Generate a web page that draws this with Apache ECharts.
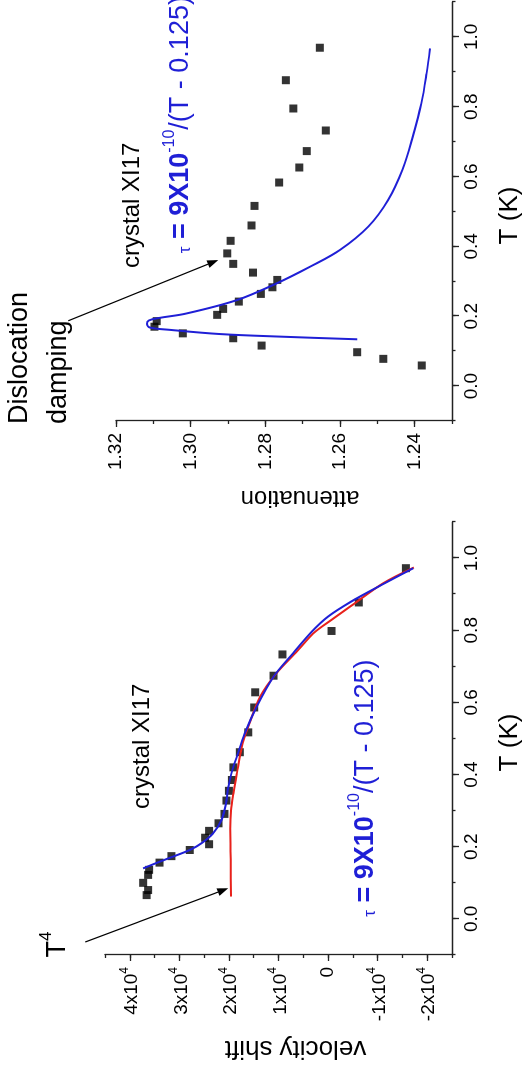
<!DOCTYPE html>
<html><head><meta charset="utf-8">
<script src="https://cdn.jsdelivr.net/npm/echarts@6/dist/echarts.min.js"></script>
<style>
html,body{margin:0;padding:0;background:#fff;overflow:hidden;width:525px;height:1071px;}
#chart{position:absolute;left:0;top:0;width:1071px;height:525px;transform-origin:0 0;transform:translate(0px,1071px) rotate(-90deg);background:#fff;}
</style></head><body><div id="chart"></div>
<script>
const FONT = '"Liberation Sans", Arial, sans-serif';

// ---- Left panel: velocity shift (in units of 1e-4) ----
const velScatterT = [0.972,0.877,0.798,0.733,0.674,0.628,0.586,0.517,0.462,0.420,0.385,0.355,0.328,0.291,0.265,0.244,0.225,0.207,0.191,0.174,0.156,0.136,0.122,0.100,0.080,0.066];
const velScatterV = [-1.57,-0.62,-0.07,0.92,1.10,1.47,1.49,1.61,1.78,1.91,1.94,2.00,2.05,2.09,2.21,2.40,2.48,2.40,2.79,3.16,3.40,3.61,3.63,3.73,3.63,3.66];
const velBlueT = [0.140,0.159,0.173,0.191,0.210,0.237,0.274,0.320,0.367,0.403,0.450,0.514,0.588,0.671,0.731,0.796,0.838,0.879,0.925,0.972];
const velBlueV = [3.73,3.39,3.12,2.79,2.55,2.32,2.15,2.06,2.01,1.95,1.84,1.68,1.44,1.10,0.74,0.33,0.00,-0.46,-1.07,-1.72];
const velRedT = [0.062,0.150,0.250,0.300,0.348,0.403,0.477,0.533,0.616,0.681,0.741,0.791,0.830,0.870,0.930,0.974];
const velRedV = [1.96,1.965,1.975,1.96,1.91,1.84,1.74,1.61,1.37,1.04,0.63,0.30,-0.08,-0.49,-1.11,-1.73];

// ---- Right panel: attenuation ----
const attScatterT = [0.969,0.876,0.795,0.732,0.673,0.626,0.583,0.516,0.460,0.416,0.380,0.350,0.325,0.304,0.283,0.264,0.242,0.221,0.204,0.186,0.170,0.151,0.137,0.116,0.097,0.078,0.059];
const attScatterA = [1.2654,1.2745,1.2725,1.2638,1.2689,1.2709,1.2763,1.2829,1.2837,1.2893,1.2902,1.2886,1.2833,1.2768,1.2781,1.2812,1.2871,1.2913,1.2929,1.3091,1.3097,1.3021,1.2886,1.2810,1.2554,1.2484,1.2381];
const attBlueT = [0.134,0.141,0.149,0.161,0.168,0.178,0.188,0.195,0.208,0.246,0.294,0.342,0.390,0.457,0.533,0.619,0.714,0.810,0.896,0.967];
const attBlueA = [1.2554,1.2743,1.2921,1.3055,1.3110,1.3117,1.3112,1.3085,1.3011,1.2877,1.2770,1.2680,1.2600,1.2524,1.2471,1.2433,1.2405,1.2382,1.2368,1.2359];

// ---- Tick labels ----
const tTicks = [0.0,0.2,0.4,0.6,0.8,1.0];
const velTicks = [-2,-1,0,1,2,3,4];
const attTicks = [1.24,1.26,1.28,1.30,1.32];

// ---- Annotation anchors (data coordinates) ----
const arrowLeft = {from:[-0.064,4.90], to:[0.085,2.013]};
const arrowRight = {from:[0.187,1.3328], to:[0.361,1.2926]};

const zip = (a,b) => a.map((v,i)=>[v,b[i]]);
const AX = '#222';
const lineStyle = {color:AX, width:1.3};

function majorX(gi){
  return {gridIndex:gi,type:'value',min:-0.1,max:1.1,interval:0.1,position:'bottom',
    name:'T (K)',nameLocation:'middle',nameGap:45,
    nameTextStyle:{fontSize:26,fontFamily:FONT,color:'#000',padding:[0,8,0,0]},
    axisLine:{show:true,onZero:false,lineStyle},
    axisTick:{show:true,customValues:tTicks,length:7,lineStyle},
    axisLabel:{customValues:tTicks,formatter:v=>v.toFixed(1),fontSize:19,fontFamily:FONT,color:'#000',margin:10},
    splitLine:{show:false}};
}
function minorX(gi){
  return {gridIndex:gi,type:'value',min:-0.1,max:1.1,interval:0.1,position:'bottom',
    axisLine:{show:false,onZero:false},axisTick:{show:true,length:3.5,lineStyle},
    axisLabel:{show:false},splitLine:{show:false}};
}
const chart = echarts.init(document.getElementById('chart'), null, {width:1071,height:525});
const option = {
  animation:false,
  backgroundColor:'#fff',
  grid:[
    {left:116,top:105,width:433,height:347,outerBoundsMode:'none',containLabel:false},
    {left:650,top:116,width:419,height:336,outerBoundsMode:'none',containLabel:false}
  ],
  xAxis:[majorX(0),majorX(1),minorX(0),minorX(1)],
  yAxis:[
    {gridIndex:0,type:'value',min:-2.5,max:4.5,interval:0.5,position:'left',
     name:'velocity shift',nameLocation:'middle',nameRotate:90,nameGap:80,
     nameTextStyle:{fontSize:26,fontFamily:FONT,color:'#000',padding:[0,34,0,0]},
     axisLine:{show:true,onZero:false,lineStyle},
     axisTick:{show:true,customValues:velTicks,length:6,lineStyle},
     axisLabel:{customValues:velTicks,margin:12,
       formatter:v=>{const n=Math.round(v);return n===0?'{n|0}':'{n|'+n+'x10}{s|4}';},
       rich:{n:{fontSize:19,fontFamily:FONT,color:'#000',verticalAlign:'bottom'},
             s:{fontSize:12,fontFamily:FONT,color:'#000',verticalAlign:'bottom',padding:[0,0,11,0]}}},
     splitLine:{show:false}},
    {gridIndex:1,type:'value',min:1.23,max:1.32,interval:0.01,position:'left',
     name:'attenuation',nameLocation:'middle',nameRotate:90,nameGap:65,
     nameTextStyle:{fontSize:24,fontFamily:FONT,color:'#000',padding:[0,32,0,0]},
     axisLine:{show:true,onZero:false,lineStyle},
     axisTick:{show:true,customValues:attTicks,length:6,lineStyle},
     axisLabel:{customValues:attTicks,margin:12,formatter:v=>v.toFixed(2),fontSize:19,fontFamily:FONT,color:'#000'},
     splitLine:{show:false}},
    {gridIndex:0,type:'value',min:-2.5,max:4.5,interval:0.5,position:'left',
     axisLine:{show:false,onZero:false},axisTick:{show:true,length:3,lineStyle},axisLabel:{show:false},splitLine:{show:false}},
    {gridIndex:1,type:'value',min:1.23,max:1.32,interval:0.01,position:'left',
     axisLine:{show:false,onZero:false},axisTick:{show:true,length:3,lineStyle},axisLabel:{show:false},splitLine:{show:false}}
  ],
  series:[
    {type:'scatter',xAxisIndex:0,yAxisIndex:0,data:zip(velScatterT,velScatterV),symbol:'rect',symbolSize:8,itemStyle:{color:'#000'},z:3},
    {type:'line',xAxisIndex:0,yAxisIndex:0,data:zip(velRedT,velRedV),showSymbol:false,smooth:0.3,lineStyle:{color:'#e8211b',width:2},z:4},
    {type:'line',xAxisIndex:0,yAxisIndex:0,data:zip(velBlueT,velBlueV),showSymbol:false,smooth:0.3,lineStyle:{color:'#1f1fd6',width:2},z:5},
    {type:'scatter',xAxisIndex:1,yAxisIndex:1,data:zip(attScatterT,attScatterA),symbol:'rect',symbolSize:8,itemStyle:{color:'#000'},z:3},
    {type:'line',xAxisIndex:1,yAxisIndex:1,data:zip(attBlueT,attBlueA),showSymbol:false,smooth:0.35,lineStyle:{color:'#1f1fd6',width:2},z:4}
  ]
};
chart.setOption(option);

function arrow(finder, a){
  const p0 = chart.convertToPixel(finder, a.from);
  const p1 = chart.convertToPixel(finder, a.to);
  const dx=p1[0]-p0[0], dy=p1[1]-p0[1], L=Math.hypot(dx,dy);
  const ux=dx/L, uy=dy/L, hl=11, hw=4;
  const bx=p1[0]-ux*hl, by=p1[1]-uy*hl;
  return [
    {type:'line',shape:{x1:p0[0],y1:p0[1],x2:bx,y2:by},style:{stroke:'#000',lineWidth:1.2},z:10},
    {type:'polygon',shape:{points:[[p1[0],p1[1]],[bx-uy*hw,by+ux*hw],[bx+uy*hw,by-ux*hw]]},style:{fill:'#000'},z:10}
  ];
}
function text(x,y,t,size,extra){
  return Object.assign({type:'text',x:x,y:y,z:10,style:Object.assign({text:t,fontSize:size,fontFamily:FONT,fill:'#000',
    align:'left',verticalAlign:'middle',textAlign:'left',textVerticalAlign:'middle'},extra||{})});
}
const BLUE='#1f1fd6';
const formulaRich = {
  t:{fontSize:17,fontFamily:FONT,fill:BLUE,verticalAlign:'bottom'},
  m:{fontSize:27,fontFamily:FONT,fill:BLUE,fontWeight:'bold',verticalAlign:'bottom'},
  s:{fontSize:16,fontFamily:FONT,fill:BLUE,verticalAlign:'bottom',padding:[0,0,16,0]},
  r:{fontSize:27,fontFamily:FONT,fill:BLUE,verticalAlign:'bottom'}
};
const formula = '{t|τ}{m| = 9X10}{s|-10}{r|/(T - 0.125)}';
const supRich = {
  b:{fontSize:27,fontFamily:FONT,fill:'#000',verticalAlign:'bottom'},
  s:{fontSize:17,fontFamily:FONT,fill:'#000',verticalAlign:'bottom',padding:[0,0,16,0]}
};
const graphics = [].concat(
  arrow({xAxisIndex:0,yAxisIndex:0}, arrowLeft),
  arrow({xAxisIndex:1,yAxisIndex:1}, arrowRight),
  [
    text(647,19.9,'Dislocation',27),
    text(647,58.3,'damping',27),
    text(262,142.7,'crystal XI17',24),
    text(803,132.7,'crystal XI17',24),
    text(154.3,363,formula,27,{rich:formulaRich,fill:BLUE}),
    text(817.7,178,formula,27,{rich:formulaRich,fill:BLUE}),
    text(113.4,54.5,'{b|T}{s|4}',27,{rich:supRich})
  ]
);
chart.setOption({graphic:graphics});
</script></body></html>
